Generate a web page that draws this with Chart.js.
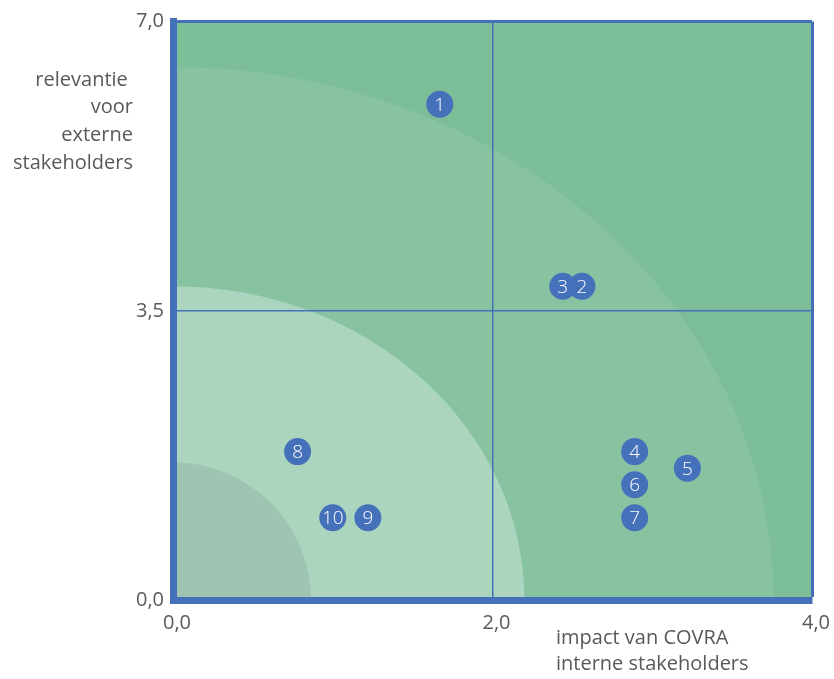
<!DOCTYPE html>
<html>
<head>
<meta charset="utf-8">
<script src="https://cdn.jsdelivr.net/npm/chart.js@4"></script>
<style>
  html, body { margin: 0; padding: 0; background: #fff; }
  #wrap { width: 834px; height: 679px; }
</style>
</head>
<body>
<div id="wrap"><canvas id="matrix"></canvas></div>
<script>
// topics (numbered bubbles)
const topics = ['1', '2', '3', '4', '5', '6', '7', '8', '9', '10'];
const impactInternal = [1.67, 2.56, 2.44, 2.89, 3.22, 2.89, 2.89, 0.78, 1.22, 1.0];
const relevanceExternal = [6.0, 3.8, 3.8, 1.8, 1.6, 1.4, 1.0, 1.8, 1.0, 1.0];

// zones around the origin (outer to inner)
const zoneRadiusX = [3.76, 2.2, 0.865];
const zoneRadiusY = [6.45, 3.8, 1.67];
const zoneColors = ['#87c3a1', '#abd5be', '#9fc4b1'];
const plotColor = '#7bbe98';

const xTicks = [0, 2, 4];
const yTicks = [0, 3.5, 7];
const yTitle = ['relevantie ', 'voor', 'externe', 'stakeholders'];
const xTitle = ['impact van COVRA', 'interne stakeholders'];

const blue = '#4570ba';
const textColor = '#595959';
const fontFamily = "'Open Sans', 'Noto Sans', sans-serif";

function fmt(v) {
  return v.toFixed(1).replace('.', ',');
}

const zonesPlugin = {
  id: 'zones',
  beforeDraw(chart) {
    const { ctx, chartArea: a, scales: { x, y } } = chart;
    ctx.save();
    ctx.beginPath();
    ctx.rect(a.left, a.top, a.right - a.left, a.bottom - a.top);
    ctx.clip();
    ctx.fillStyle = plotColor;
    ctx.fillRect(a.left, a.top, a.right - a.left, a.bottom - a.top);
    const x0 = x.getPixelForValue(0);
    const y0 = y.getPixelForValue(0);
    zoneRadiusX.forEach((rx, i) => {
      const rpx = x.getPixelForValue(rx) - x0;
      const rpy = y0 - y.getPixelForValue(zoneRadiusY[i]);
      ctx.beginPath();
      ctx.moveTo(x0, y0);
      ctx.ellipse(x0, y0, rpx, rpy, 0, -Math.PI / 2, 0);
      ctx.closePath();
      ctx.fillStyle = zoneColors[i];
      ctx.fill();
    });
    ctx.restore();
  }
};

const labelsPlugin = {
  id: 'bubbleLabels',
  afterDatasetsDraw(chart) {
    const { ctx } = chart;
    const meta = chart.getDatasetMeta(0);
    ctx.save();
    ctx.fillStyle = '#ffffff';
    ctx.font = '300 19px ' + fontFamily;
    ctx.textAlign = 'center';
    ctx.textBaseline = 'middle';
    meta.data.forEach((pt, i) => {
      ctx.fillText(topics[i], pt.x, pt.y + 1);
    });
    ctx.restore();
  }
};

const titlesPlugin = {
  id: 'axisTitles',
  afterDraw(chart) {
    const { ctx } = chart;
    ctx.save();
    ctx.fillStyle = textColor;
    ctx.font = '20px ' + fontFamily;
    ctx.textBaseline = 'middle';
    ctx.textAlign = 'right';
    yTitle.forEach((line, i) => {
      ctx.fillText(line, 133, 80 + i * 27.7);
    });
    ctx.textAlign = 'left';
    xTitle.forEach((line, i) => {
      ctx.fillText(line, 556, 638 + i * 26);
    });
    ctx.restore();
  }
};

const ctx = document.getElementById('matrix').getContext('2d');

new Chart(ctx, {
  type: 'scatter',
  data: {
    datasets: [{
      label: 'onderwerpen',
      data: impactInternal.map((v, i) => ({ x: v, y: relevanceExternal[i] })),
      backgroundColor: blue,
      borderWidth: 0,
      pointRadius: 13.5,
      pointHoverRadius: 13.5
    }]
  },
  options: {
    responsive: true,
    maintainAspectRatio: false,
    animation: false,
    layout: { padding: { top: 21.5, right: 22, left: 0, bottom: 0 } },
    plugins: {
      legend: { display: false },
      tooltip: { enabled: false }
    },
    scales: {
      x: {
        type: 'linear',
        min: 0,
        max: 4,
        afterBuildTicks: (scale) => { scale.ticks = xTicks.map(v => ({ value: v })); },
        afterFit: (scale) => {
          scale.height = 78.5;
          scale.paddingLeft = 0;
          scale.paddingRight = 0;
        },
        ticks: {
          color: textColor,
          font: { family: fontFamily, size: 20 },
          padding: 11,
          labelOffset: 4,
          maxRotation: 0,
          callback: (v) => fmt(v)
        },
        grid: {
          drawTicks: false,
          lineWidth: (c) => c.tick && c.tick.value === 4 ? 3 : 1.5,
          color: (c) => c.tick && c.tick.value > 0 ? blue : 'rgba(0,0,0,0)'
        },
        border: { color: blue, width: 7 }
      },
      y: {
        type: 'linear',
        min: 0,
        max: 7,
        afterBuildTicks: (scale) => { scale.ticks = yTicks.map(v => ({ value: v })); },
        afterFit: (scale) => {
          scale.width = 173;
          scale.paddingTop = 0;
          scale.paddingBottom = 0;
        },
        ticks: {
          color: textColor,
          font: { family: fontFamily, size: 20 },
          padding: 9,
          callback: (v) => fmt(v)
        },
        grid: {
          drawTicks: false,
          lineWidth: (c) => c.tick && c.tick.value === 7 ? 3 : 1.5,
          color: (c) => c.tick && c.tick.value > 0 ? blue : 'rgba(0,0,0,0)'
        },
        border: { color: blue, width: 7 }
      }
    }
  },
  plugins: [zonesPlugin, labelsPlugin, titlesPlugin]
});
</script>
</body>
</html>
